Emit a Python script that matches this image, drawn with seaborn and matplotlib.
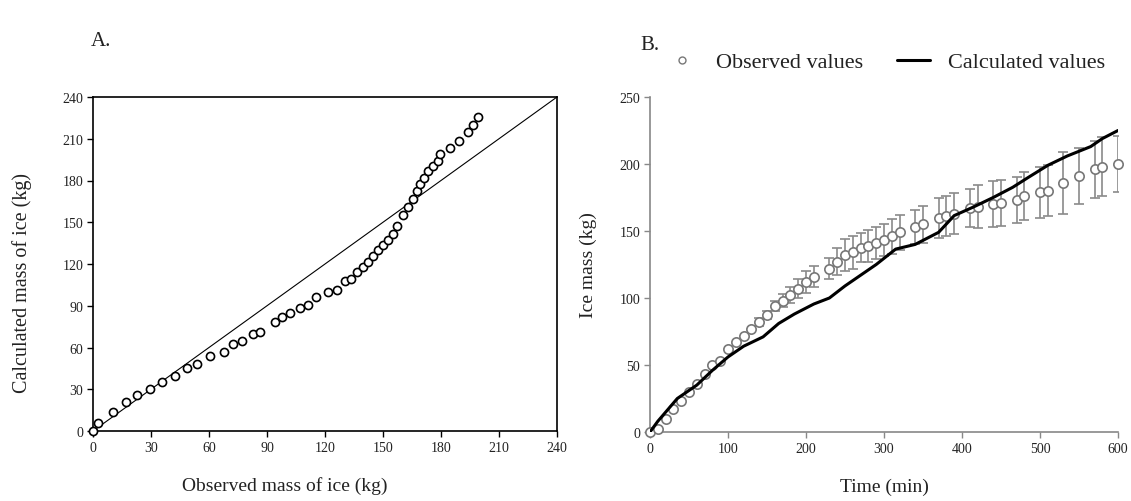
import matplotlib
matplotlib.use("Agg")
import matplotlib.pyplot as plt
from matplotlib.lines import Line2D
import numpy as np
import seaborn as sns

# Panel A: observed vs calculated ice mass (kg)
obs_mass_a = [0, 2.8, 10.5, 17, 23, 29.5, 35.5, 42.6, 48.5, 53.6, 60.5, 67.7, 72.6, 77,
              82.8, 86.5, 94, 97.6, 102, 107, 111, 115.4, 121.7, 126.2, 130.6, 133.5,
              136.5, 139.5, 142, 144.7, 147.3, 150, 152.8, 155, 157, 160.5, 163, 165.7,
              167.5, 169, 171, 173.5, 176, 178.6, 179.5, 184.7, 189.5, 194, 196.7, 199.3]
calc_mass_a = [0, 5.5, 13.4, 20.6, 26, 30.5, 35.5, 39.7, 45.3, 48, 53.8, 56.5, 62.5, 65,
               70, 71.3, 78.5, 81.7, 84.5, 88.5, 90.3, 96, 99.8, 101.5, 107.5, 109.5,
               114, 117.6, 121.6, 126, 130, 133.5, 137, 141.5, 147, 155, 161, 166.5,
               172.6, 177.4, 182, 187, 190.6, 194, 199, 203, 208.5, 214.6, 219.8, 225.4]
ticks_a = [0, 30, 60, 90, 120, 150, 180, 210, 240]

# Panel B: ice mass over time
obs_time = [0, 10, 20, 30, 40, 50, 60, 70, 80, 90, 100, 110, 120, 130, 140, 150, 160,
            170, 180, 190, 200, 210, 230, 240, 250, 260, 270, 280, 290, 300, 310, 320,
            340, 350, 370, 380, 390, 410, 420, 440, 450, 470, 480, 500, 510, 530, 550,
            570, 580, 600]
obs_mass = [0, 2, 10, 17, 23, 30, 36, 43, 50, 53, 62, 67, 72, 77, 82, 87, 94, 98, 102,
            107, 112, 116, 122, 127, 132, 134, 137.5, 139, 141, 143.5, 146, 149, 153,
            155, 159.5, 161, 163, 167, 168, 170, 171, 173, 176, 179, 180, 186, 191, 196,
            198, 200]
obs_err = [0, 0, 0, 0, 0, 0, 0, 0, 0, 0, 0, 0, 0, 0, 3, 3, 4, 5, 6, 7, 8, 8, 8, 10, 12,
           12, 11, 12, 12, 12, 13, 13, 13, 14, 15, 15, 15, 14, 16, 17, 17, 17, 18, 19,
           19, 23, 21, 21, 22, 21]
calc_time = [0, 10, 35, 60, 80, 100, 120, 145, 165, 185, 210, 230, 250, 270, 290, 315,
             340, 370, 390, 415, 440, 465, 485, 510, 535, 565, 580, 600]
calc_mass = [0, 8, 25, 35, 46, 56, 64, 71, 81, 88, 95.5, 100, 109, 117, 125, 136.5, 140,
             149, 161.5, 168, 175, 182.6, 190, 199, 206, 213, 219, 225]
xticks_b = [0, 100, 200, 300, 400, 500, 600]
yticks_b = [0, 50, 100, 150, 200, 250]

sns.set_theme(style="white")
plt.rcParams["font.family"] = ["Liberation Serif", "DejaVu Serif"]

W, H = 1131, 502
fig = plt.figure(figsize=(W / 100, H / 100), dpi=100)
axA = fig.add_axes([93 / W, 70 / H, 464 / W, 334 / H])
axB = fig.add_axes([650 / W, 69 / H, 468 / W, 335 / H])

tick_fs = 10
label_fs = 14

# ---- Panel A ----
axA.axline((0, 0), slope=1, color="black", lw=0.8, zorder=1)
sns.scatterplot(x=obs_mass_a, y=calc_mass_a, ax=axA, marker="o", s=34,
                facecolor="white", edgecolor="black", linewidth=1.2,
                zorder=3, clip_on=False)
axA.set_xlim(0, 240)
axA.set_ylim(0, 240)
axA.set_xticks(ticks_a)
axA.set_yticks(ticks_a)
for sp in axA.spines.values():
    sp.set_color("black")
    sp.set_linewidth(1.2)
axA.tick_params(axis="both", which="both", bottom=True, left=True, direction="out",
                length=4, width=1, color="black", labelsize=tick_fs, pad=3,
                labelcolor="#222222")
axA.set_xlabel("Observed mass of ice (kg)", fontsize=label_fs, color="#222222")
axA.set_ylabel("Calculated mass of ice (kg)", fontsize=14.5, color="#222222")
axA.xaxis.set_label_coords(0.414, -0.135)
axA.yaxis.set_label_coords(-0.131, 0.445)

# ---- Panel B ----
e = np.array(obs_err, dtype=float)
t = np.array(obs_time, dtype=float)
m = np.array(obs_mass, dtype=float)
has_err = e > 0
axB.errorbar(t[has_err], m[has_err], yerr=e[has_err], fmt="none", ecolor="#8a8a8a",
             elinewidth=1.2, capsize=3.5, capthick=1.2, zorder=2)
sns.lineplot(x=calc_time, y=calc_mass, ax=axB, color="black", lw=2.2, zorder=4,
             legend=False)
sns.scatterplot(x=obs_time, y=obs_mass, ax=axB, marker="o", s=45, facecolor="white",
                edgecolor="#777777", linewidth=1.2, zorder=3, clip_on=False,
                legend=False)
axB.set_xlim(0, 600)
axB.set_ylim(0, 250)
axB.set_xticks(xticks_b)
axB.set_yticks(yticks_b)
axB.spines["top"].set_visible(False)
axB.spines["right"].set_visible(False)
for side in ("left", "bottom"):
    axB.spines[side].set_color("#888888")
    axB.spines[side].set_linewidth(1.2)
axB.tick_params(axis="both", which="both", bottom=True, left=True, direction="out",
                length=4, width=1, color="#888888", labelsize=tick_fs, pad=3,
                labelcolor="#222222")
axB.set_xlabel("Time (min)", fontsize=label_fs, color="#222222")
axB.set_ylabel("Ice mass (kg)", fontsize=label_fs, color="#222222")
axB.xaxis.set_label_coords(0.5, -0.135)
axB.yaxis.set_label_coords(-0.113, 0.5)

handles = [
    Line2D([], [], marker="o", ls="none", markersize=5, markerfacecolor="white",
           markeredgecolor="#777777", markeredgewidth=1.0),
    Line2D([], [], color="black", lw=2.2),
]
fig.legend(handles, ["Observed values", "Calculated values"], loc="center",
           bbox_to_anchor=(885 / W, 1 - 63 / H), ncol=2, frameon=False,
           fontsize=16, handlelength=1.5, columnspacing=1.5, handletextpad=0.8,
           labelcolor="#222222")

fig.text(101 / W, 1 - 42 / H, "A.", fontsize=15, ha="center", va="center",
         color="#222222")
fig.text(650 / W, 1 - 45 / H, "B.", fontsize=15, ha="center", va="center",
         color="#222222")

fig.savefig("out.png", dpi=100, facecolor="white")
